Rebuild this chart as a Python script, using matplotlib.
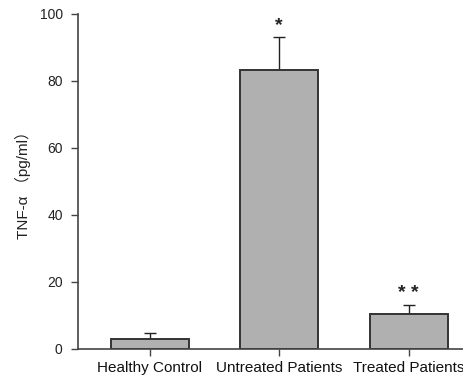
import matplotlib.pyplot as plt

groups = ["Healthy Control", "Untreated Patients", "Treated Patients"]
means = [3.0, 83.3, 10.4]
errors = [1.7, 9.8, 2.7]
marks = ["", "*", "* *"]

plt.rcParams["font.family"] = ["Liberation Sans", "DejaVu Sans"]

fig = plt.figure(figsize=(4.64, 3.86), dpi=100)
ax = fig.add_axes([0.168, 0.096, 0.83, 0.868])

x = list(range(len(groups)))
ax.bar(x, means, width=0.6, color="#b0b0b0", edgecolor="#333333", linewidth=1.4, zorder=2)
ax.errorbar(x, means, yerr=[[0] * len(errors), errors], fmt="none", ecolor="#222222",
            elinewidth=1.0, capsize=4, capthick=1.0, zorder=1)

for xi, m, e, s in zip(x, means, errors, marks):
    if s:
        ax.text(xi, m + e + 1.0, s, ha="center", va="bottom", fontsize=14,
                fontweight="bold", color="#222222")

ax.set_xlim(-0.555, 2.42)
ax.set_ylim(0, 100)
ax.set_yticks([0, 20, 40, 60, 80, 100])
ax.set_xticks(x)
ax.set_xticklabels(groups, fontsize=11, color="#111111")
ax.tick_params(axis="y", labelsize=10, direction="out", length=5, width=1, color="#444444",
               pad=6, labelcolor="#222222")
ax.tick_params(axis="x", direction="out", length=5, width=1, color="#444444", pad=4)
ax.set_ylabel("TNF-\u03b1 \uff08pg/ml\uff09", fontsize=11, color="#222222",
              family=["Liberation Sans", "Noto Sans CJK SC"], labelpad=6)

for side in ["top", "right"]:
    ax.spines[side].set_visible(False)
for side in ["left", "bottom"]:
    ax.spines[side].set_color("#444444")
    ax.spines[side].set_linewidth(1.2)

fig.savefig("out.png", dpi=100)
